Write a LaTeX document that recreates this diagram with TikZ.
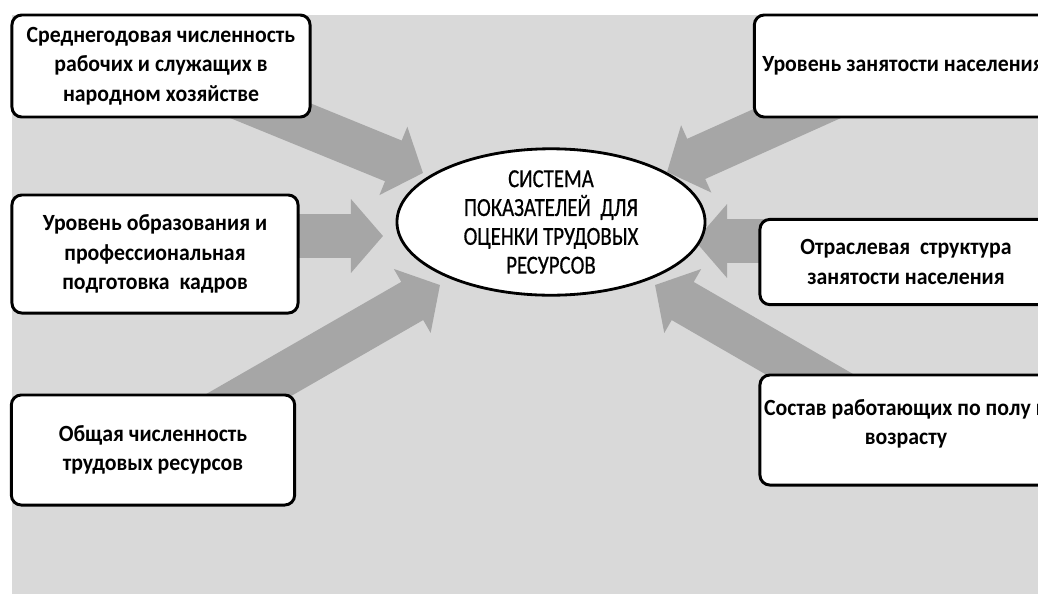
\documentclass[tikz,border=0pt]{standalone}
\usepackage{fontspec}
\setmainfont{Carlito}[FakeStretch=0.94]
\newfontfamily\sysfont{Carlito}[FakeStretch=0.8, FakeBold=0.5]
\usetikzlibrary{shapes.geometric,arrows.meta}
\definecolor{backgray}{RGB}{217,217,217}
\definecolor{arrowgray}{RGB}{166,166,166}
\pgfdeclarelayer{back}
\pgfsetlayers{back,main}

\begin{document}
\begin{tikzpicture}[x=0.025cm, y=-0.025cm,
    box/.style = {draw, rounded corners=7pt, line width=2.1pt, fill=white, align=center, inner sep=0pt, font=\bfseries\fontsize{16.5}{21}\selectfont},
    sys/.style = {draw, ellipse, line width=2pt, fill=white, align=center, inner sep=0pt, minimum width=7.7cm, minimum height=3.18cm, font=\sysfont\fontsize{18.5}{20.5}\selectfont},
    flow/.style = {draw=arrowgray, line width=1.1cm, -{Triangle[width=1.8cm, length=0.8cm]}}]
      \useasboundingbox (0,0) rectangle (1038,594);
      \clip (0,0) rectangle (1038,594);
      \node[sys] (sys) at (551,222) {СИСТЕМА\\ПОКАЗАТЕЛЕЙ\ \ ДЛЯ\\ОЦЕНКИ ТРУДОВЫХ\\РЕСУРСОВ};
      \node[box, minimum width=7.45cm, minimum height=2.55cm] (b1) at (161,66) {Среднегодовая численность\\рабочих и служащих в\\народном хозяйстве};
      \node[box, minimum width=7.15cm, minimum height=2.95cm] (b2) at (155,254) {Уровень образования и\\профессиональная\\подготовка\ \ кадров};
      \node[box, minimum width=7.08cm, minimum height=2.75cm] (b3) at (153,450) {Общая численность\\трудовых ресурсов};
      \node[box, minimum width=7.43cm, minimum height=2.55cm] (b4) at (903,66) {Уровень занятости населения};
      \node[box, minimum width=7.3cm, minimum height=2.13cm] (b5) at (906,262) {Отраслевая\ \ структура\\занятости населения};
      \node[box, minimum width=7.3cm, minimum height=2.75cm, text depth=0.4cm] (b6) at (906,430) {Состав работающих по полу и\\возрасту};
      \coordinate (t1) at (423,173);
      \coordinate (t2) at (383,236);
      \coordinate (t3) at (440,285);
      \coordinate (t4) at (667,172);
      \coordinate (t5) at (695,241);
      \coordinate (t6) at (655,285);
      \begin{pgfonlayer}{back}
        \fill[backgray] (12,15) rectangle (1038,594);
        \draw[flow] (b1.center) -- (t1);
        \draw[flow] (b2.center |- t2) -- (t2);
        \draw[flow] (b3.center) -- (t3);
        \draw[flow] (b4.center) -- (t4);
        \draw[flow] (b5.center |- t5) -- (t5);
        \draw[flow] (b6.center) -- (t6);
      \end{pgfonlayer}
\end{tikzpicture}
\end{document}
